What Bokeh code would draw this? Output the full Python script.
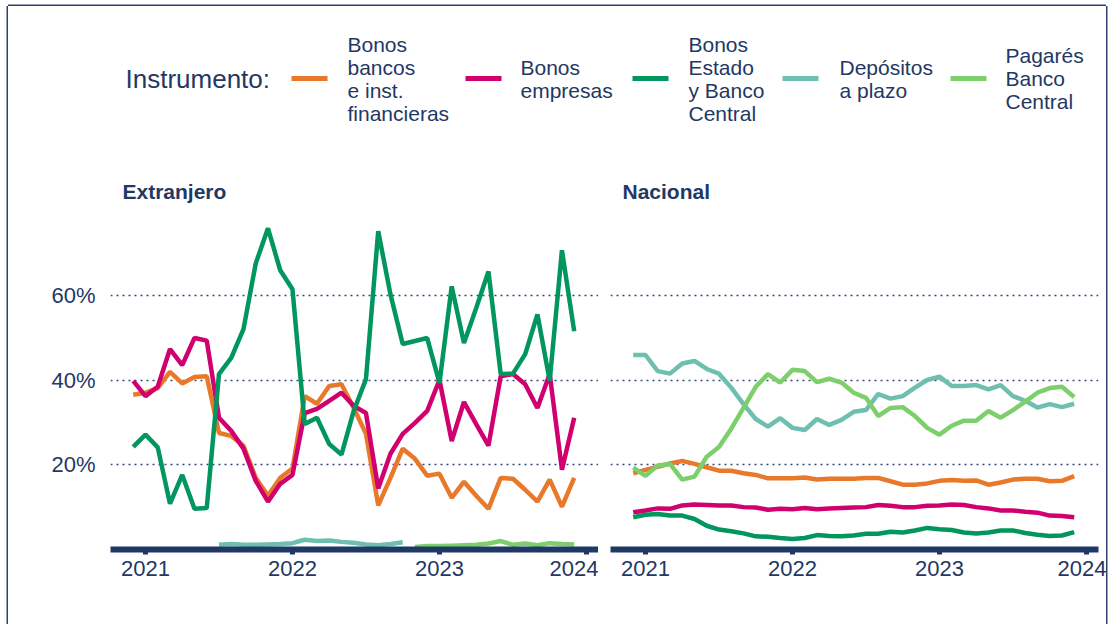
import math
from bokeh.plotting import figure
from bokeh.layouts import column, row
from bokeh.models import Range1d, FixedTicker, PrintfTickFormatter
from bokeh.core.properties import value
from bokeh.embed import file_html
from bokeh.resources import INLINE

NAN = float("nan")
FONT = "Liberation Sans"
NAVY = "#1f3864"

# ---------------- data (monthly, Dec-2020 .. Dec-2023, % of holdings) ----------------
n_months = 37
months = [2020 + (11 + i) / 12 for i in range(n_months)]  # decimal year, Dec 2020 first

series_names = ["Bonos\nbancos\ne inst.\nfinancieras", "Bonos\nempresas",
                "Bonos\nEstado\ny Banco\nCentral", "Depósitos\na plazo", "Pagarés\nBanco\nCentral"]
series_colors = ["#e8792a", "#d1006f", "#00965e", "#6ebfb0", "#7ccf6a"]

ext_bancos = [36.5, 37.0, 38.1, 41.9, 39.2, 40.7, 40.9, 27.5, 26.8, 24.5, 16.9, 12.7, 16.9, 19.1,
              36.2, 34.4, 38.6, 39.0, 33.4, 27.3, 10.4, 16.9, 23.8, 21.4, 17.4, 17.9, 12.2, 16.0,
              12.7, 9.6, 16.9, 16.7, 14.1, 11.3, 16.5, 10.1, 16.9]
ext_empresas = [39.8, 36.2, 38.4, 47.3, 43.5, 49.9, 49.3, 31.1, 28.0, 23.8, 16.2, 11.3, 15.5, 17.6,
                32.2, 33.2, 35.1, 37.0, 33.9, 32.2, 14.4, 22.6, 27.3, 29.9, 32.7, 40.0, 25.6, 34.8,
                29.6, 24.5, 40.9, 41.4, 39.0, 33.4, 41.4, 18.8, 31.1]
ext_estado = [24.2, 27.1, 24.1, 10.8, 17.6, 9.6, 9.8, 41.4, 45.2, 52.0, 67.5, 75.8, 65.9, 61.4,
              29.6, 31.1, 24.9, 22.4, 32.7, 40.2, 75.1, 60.2, 48.5, 49.2, 49.9, 39.3, 62.1, 48.7,
              57.0, 65.6, 41.4, 41.5, 46.1, 55.5, 39.8, 70.6, 51.5]
ext_depositos = [NAN] * 7 + [1.1, 1.3, 1.1, 1.1, 1.2, 1.3, 1.5, 2.3, 2.0, 2.1, 1.8, 1.6, 1.2, 1.0,
                             1.3, 1.7] + [NAN] * 14
ext_pagares = [NAN] * 23 + [0.6, 0.8, 0.8, 0.9, 1.0, 1.1, 1.4, 2.0, 1.1, 1.4, 1.0, 1.5, 1.3, 1.2]

nac_bancos = [18.0, 18.8, 19.5, 20.3, 20.9, 20.2, 19.4, 18.6, 18.6, 18.0, 17.6, 16.8, 16.8, 16.8,
              17.0, 16.5, 16.7, 16.7, 16.7, 16.9, 16.9, 16.1, 15.3, 15.3, 15.6, 16.2, 16.4, 16.2,
              16.3, 15.3, 15.8, 16.5, 16.7, 16.7, 16.1, 16.2, 17.3]
nac_empresas = [8.8, 9.2, 9.7, 9.6, 10.4, 10.6, 10.5, 10.4, 10.4, 10.0, 9.9, 9.4, 9.6, 9.5,
                9.8, 9.5, 9.7, 9.8, 9.9, 10.0, 10.5, 10.3, 10.0, 10.0, 10.3, 10.4, 10.6, 10.5,
                10.0, 9.7, 9.2, 9.2, 8.9, 8.7, 8.0, 7.9, 7.6]
nac_estado = [7.6, 8.2, 8.4, 8.0, 8.0, 7.2, 5.6, 4.7, 4.3, 3.8, 3.1, 3.0, 2.7, 2.5,
              2.7, 3.4, 3.2, 3.1, 3.3, 3.7, 3.7, 4.2, 4.0, 4.5, 5.1, 4.8, 4.6, 4.0,
              3.8, 4.0, 4.5, 4.5, 3.9, 3.5, 3.2, 3.3, 4.1]
nac_depositos = [45.9, 45.9, 42.1, 41.5, 43.9, 44.5, 42.6, 41.5, 38.2, 34.3, 30.8, 29.0, 31.0, 28.7,
                 28.2, 30.8, 29.4, 30.6, 32.5, 32.9, 36.7, 35.6, 36.2, 38.2, 40.0, 40.8, 38.6, 38.6,
                 38.8, 37.8, 38.8, 36.2, 35.1, 33.5, 34.3, 33.6, 34.4]
nac_pagares = [19.3, 17.4, 19.8, 20.2, 16.5, 17.2, 21.9, 24.2, 28.5, 33.4, 38.4, 41.4, 39.4, 42.4,
               42.1, 39.5, 40.3, 39.4, 37.0, 35.8, 31.5, 33.4, 33.6, 31.5, 28.7, 27.1, 29.2, 30.4,
               30.4, 32.7, 31.1, 32.9, 34.9, 37.0, 38.1, 38.4, 36.0]

year_ticks = [2021, 2022, 2023, 2024]
pct_ticks = [20, 40, 60]
panel_titles = ["Extranjero", "Nacional"]

# ---------------- legend strip ----------------
LW, LH = 1098, 154
leg = figure(width=LW, height=LH, x_range=Range1d(0, LW), y_range=Range1d(LH, 0),
             toolbar_location=None, output_backend="svg", min_border=0,
             x_axis_location=None, y_axis_location=None)
leg.grid.visible = False
leg.outline_line_color = None

sw_x0 = [283, 457, 624, 774, 942]
sw_len = 36
lab_x = [339, 512, 680, 831, 997]
leg_y = 72
leg.segment(x0=sw_x0, y0=[leg_y] * 5, x1=[x + sw_len for x in sw_x0], y1=[leg_y] * 5,
            line_color=series_colors, line_width=5)
leg.text(x=lab_x, y=[leg_y] * 5, text=series_names, text_font=value(FONT),
         text_font_size="21px", text_color=NAVY, text_baseline="middle", text_align="left",
         text_line_height=1.0)
leg.text(x=[117], y=[leg_y], text=["Instrumento:"], text_font=value(FONT),
         text_font_size="26px", text_color=NAVY, text_baseline="middle", text_align="left")

# ---------------- panels ----------------
y_rng = Range1d(0, 80)


def make_panel(title, series, show_y, width, left, right):
    p = figure(width=width, height=464, title=title,
               x_range=Range1d(2020.762, 2024.082), y_range=y_rng,
               toolbar_location=None, output_backend="svg",
               min_border_left=left, min_border_right=right,
               min_border_top=50, min_border_bottom=75,
               y_axis_location="left" if show_y else None)
    p.outline_line_color = None
    p.title.text_font = FONT
    p.title.text_font_size = "21px"
    p.title.text_font_style = "bold"
    p.title.text_color = NAVY
    p.title.align = "left"
    p.title.offset = 12
    p.title.standoff = 15
    p.xgrid.visible = False
    p.ygrid.ticker = FixedTicker(ticks=pct_ticks)
    p.ygrid.grid_line_color = "#34497a"
    p.ygrid.grid_line_dash = "2 4"
    p.ygrid.grid_line_width = 1.5

    for vals, col in zip(series, series_colors):
        p.line(months, vals, line_color=col, line_width=4.5)

    xa = p.xaxis[0]
    xa.ticker = FixedTicker(ticks=year_ticks)
    xa.formatter = PrintfTickFormatter(format="%d")
    xa.axis_line_color = NAVY
    xa.axis_line_width = 6
    xa.major_tick_line_color = NAVY
    xa.major_tick_line_width = 5
    xa.major_tick_out = 5
    xa.major_tick_in = 0
    xa.minor_tick_line_color = None
    xa.major_label_text_font = FONT
    xa.major_label_text_font_size = "22px"
    xa.major_label_text_color = NAVY
    xa.major_label_standoff = 6

    if show_y:
        ya = p.yaxis[0]
        ya.ticker = FixedTicker(ticks=pct_ticks)
        ya.formatter = PrintfTickFormatter(format="%d%%")
        ya.axis_line_color = None
        ya.major_tick_line_color = None
        ya.minor_tick_line_color = None
        ya.major_label_text_font = FONT
        ya.major_label_text_font_size = "22px"
        ya.major_label_text_color = NAVY
        ya.major_label_standoff = 9
    return p


p_ext = make_panel(panel_titles[0],
                   [ext_bancos, ext_empresas, ext_estado, ext_depositos, ext_pagares],
                   True, 590, 102, 0)
p_nac = make_panel(panel_titles[1],
                   [nac_bancos, nac_empresas, nac_estado, nac_depositos, nac_pagares],
                   False, 508, 12, 8)

frame_col = "#2b4270"
layout = column(leg, row(p_ext, p_nac), margin=(6, 0, 0, 8),
                styles={"box-shadow": f"-1.5px 0 0 0 {frame_col}, 1.5px 0 0 0 {frame_col}, "
                                      f"0 -1.5px 0 0 {frame_col}"})

open("out.html", "w").write(file_html(layout, INLINE))
